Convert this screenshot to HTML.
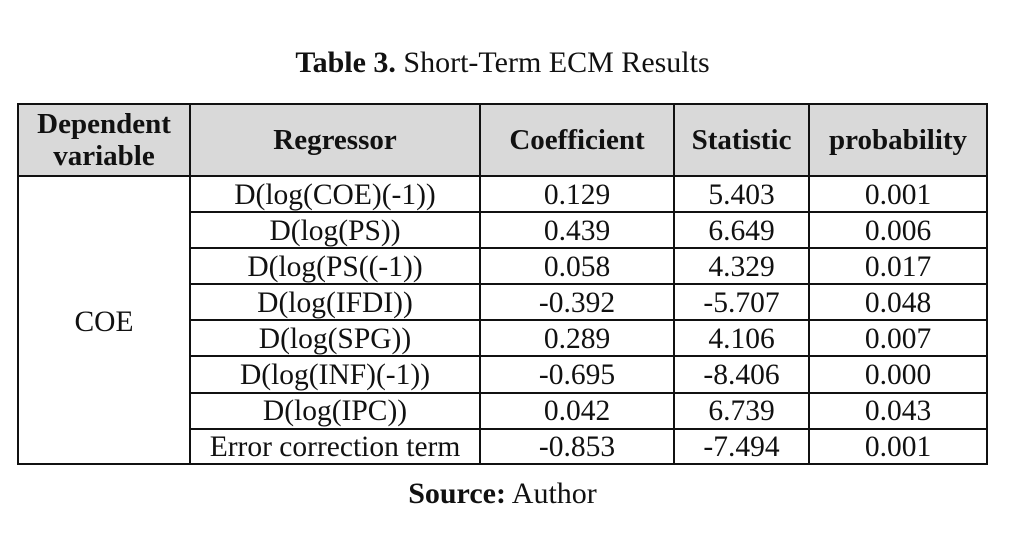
<!DOCTYPE html>
<html><head><style>
body{margin:0;width:1015px;height:545px;background:#fff;font-family:"Liberation Serif",serif;color:#111;position:relative;overflow:hidden}
.t{position:absolute;white-space:nowrap}
.hl{position:absolute;background:#111;height:2px}
.vl{position:absolute;background:#111;width:2px}
.c{position:absolute;text-align:center;font-size:29.5px;line-height:36px;white-space:nowrap}
.h{position:absolute;text-align:center;font-size:29px;font-weight:bold;line-height:32px;white-space:nowrap}
</style></head><body>
<div class="t" style="left:0;width:1005px;text-align:center;top:46px;font-size:30px"><b>Table 3.</b> Short-Term ECM Results</div>
<div style="position:absolute;left:17px;top:104px;width:970px;height:72px;background:#d9d9d9"></div>
<div class="hl" style="left:17px;top:103px;width:971px"></div>
<div class="hl" style="left:17px;top:175px;width:971px"></div>
<div class="hl" style="left:189px;top:211px;width:799px"></div>
<div class="hl" style="left:189px;top:247px;width:799px"></div>
<div class="hl" style="left:189px;top:283px;width:799px"></div>
<div class="hl" style="left:189px;top:319px;width:799px"></div>
<div class="hl" style="left:189px;top:355px;width:799px"></div>
<div class="hl" style="left:189px;top:392px;width:799px"></div>
<div class="hl" style="left:189px;top:428px;width:799px"></div>
<div class="hl" style="left:17px;top:463px;width:971px"></div>
<div class="vl" style="left:17px;top:103px;height:362px"></div>
<div class="vl" style="left:189px;top:103px;height:362px"></div>
<div class="vl" style="left:479px;top:103px;height:362px"></div>
<div class="vl" style="left:673px;top:103px;height:362px"></div>
<div class="vl" style="left:808px;top:103px;height:362px"></div>
<div class="vl" style="left:986px;top:103px;height:362px"></div>
<div class="h" style="left:19px;width:170px;top:108px">Dependent<br>variable</div>
<div class="h" style="left:191px;width:288px;top:124px">Regressor</div>
<div class="h" style="left:481px;width:192px;top:124px">Coefficient</div>
<div class="h" style="left:675px;width:133px;top:124px">Statistic</div>
<div class="h" style="left:810px;width:176px;top:124px">probability</div>
<div class="c" style="left:19px;width:170px;top:304px">COE</div>
<div style="position:absolute;left:0;top:177px">
<div class="c" style="left:191px;width:288px;top:0">D(log(COE)(-1))</div>
<div class="c" style="left:191px;width:288px;top:36px">D(log(PS))</div>
<div class="c" style="left:191px;width:288px;top:72px">D(log(PS((-1))</div>
<div class="c" style="left:191px;width:288px;top:108px">D(log(IFDI))</div>
<div class="c" style="left:191px;width:288px;top:144px">D(log(SPG))</div>
<div class="c" style="left:191px;width:288px;top:180px">D(log(INF)(-1))</div>
<div class="c" style="left:191px;width:288px;top:216px">D(log(IPC))</div>
<div class="c" style="left:191px;width:288px;top:252px">Error correction term</div>
<div class="c" style="left:481px;width:192px;top:0">0.129</div>
<div class="c" style="left:481px;width:192px;top:36px">0.439</div>
<div class="c" style="left:481px;width:192px;top:72px">0.058</div>
<div class="c" style="left:481px;width:192px;top:108px">-0.392</div>
<div class="c" style="left:481px;width:192px;top:144px">0.289</div>
<div class="c" style="left:481px;width:192px;top:180px">-0.695</div>
<div class="c" style="left:481px;width:192px;top:216px">0.042</div>
<div class="c" style="left:481px;width:192px;top:252px">-0.853</div>
<div class="c" style="left:675px;width:133px;top:0">5.403</div>
<div class="c" style="left:675px;width:133px;top:36px">6.649</div>
<div class="c" style="left:675px;width:133px;top:72px">4.329</div>
<div class="c" style="left:675px;width:133px;top:108px">-5.707</div>
<div class="c" style="left:675px;width:133px;top:144px">4.106</div>
<div class="c" style="left:675px;width:133px;top:180px">-8.406</div>
<div class="c" style="left:675px;width:133px;top:216px">6.739</div>
<div class="c" style="left:675px;width:133px;top:252px">-7.494</div>
<div class="c" style="left:810px;width:176px;top:0">0.001</div>
<div class="c" style="left:810px;width:176px;top:36px">0.006</div>
<div class="c" style="left:810px;width:176px;top:72px">0.017</div>
<div class="c" style="left:810px;width:176px;top:108px">0.048</div>
<div class="c" style="left:810px;width:176px;top:144px">0.007</div>
<div class="c" style="left:810px;width:176px;top:180px">0.000</div>
<div class="c" style="left:810px;width:176px;top:216px">0.043</div>
<div class="c" style="left:810px;width:176px;top:252px">0.001</div>
</div>
<div class="t" style="left:0;width:1005px;text-align:center;top:477px;font-size:30px"><b>Source:</b> Author</div>
</body></html>
